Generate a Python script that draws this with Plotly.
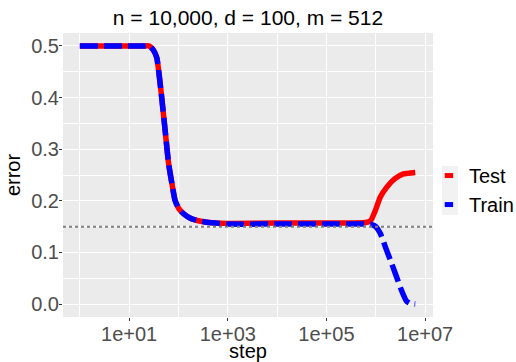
import plotly.graph_objects as go

# ---- data ----
test_step = [1, 10, 20, 25.1, 26.9, 30.9, 36.3, 45.7, 53.7, 63.1, 74.1, 85.1, 100, 117,
             148, 186, 347, 550, 1000, 10000, 100000, 631000, 794000, 977000, 1230000,
             1660000, 2450000, 3630000, 6310000]
test_err = [0.5, 0.5, 0.5, 0.5, 0.498, 0.492, 0.477, 0.40, 0.336, 0.272, 0.232, 0.201,
            0.186, 0.178, 0.170, 0.165, 0.159, 0.157, 0.156, 0.157, 0.157, 0.158, 0.162,
            0.181, 0.207, 0.226, 0.243, 0.252, 0.255]

train_step = [1, 10, 20, 25.1, 26.9, 30.9, 36.3, 45.7, 53.7, 63.1, 74.1, 85.1, 100, 117,
              148, 186, 347, 550, 1000, 10000, 100000, 631000, 832000, 1000000, 1230000,
              1660000, 2090000, 2630000, 3310000, 4170000, 5010000, 6310000]
train_err = [0.5, 0.5, 0.5, 0.5, 0.498, 0.492, 0.477, 0.40, 0.336, 0.272, 0.232, 0.201,
             0.186, 0.178, 0.170, 0.165, 0.159, 0.157, 0.155, 0.155, 0.155, 0.155, 0.154,
             0.150, 0.137, 0.104, 0.079, 0.053, 0.027, 0.006, 0.001, 0.0]

x_tickvals = [10, 1000, 100000, 10000000]
x_ticktext = ["1e+01", "1e+03", "1e+05", "1e+07"]
x_minor = [1, 100, 10000, 1000000]
y_tickvals = [0.0, 0.1, 0.2, 0.3, 0.4, 0.5]
y_ticktext = ["0.0", "0.1", "0.2", "0.3", "0.4", "0.5"]
y_minor = [0.05, 0.15, 0.25, 0.35, 0.45]
ref_line = 0.15
title = "n = 10,000, d = 100, m = 512"

FONT = "Liberation Sans, Arial, sans-serif"

fig = go.Figure()
fig.add_trace(go.Scatter(x=test_step, y=test_err, mode="lines", name="Test",
                         line=dict(color="#FF0000", width=5.5, shape="spline", smoothing=0.5),
                         showlegend=False))
fig.add_trace(go.Scatter(x=train_step, y=train_err, mode="lines", name="Train",
                         line=dict(color="#0000FF", width=5.5, dash="18px,6px",
                                   shape="spline", smoothing=0.5),
                         showlegend=False))
# legend keys
fig.add_trace(go.Scatter(x=[None], y=[None], mode="markers", name="Test",
                         marker=dict(symbol="line-ew", size=6,
                                     line=dict(color="#FF0000", width=5))))
fig.add_trace(go.Scatter(x=[None], y=[None], mode="markers", name="Train",
                         marker=dict(symbol="line-ew", size=6,
                                     line=dict(color="#0000FF", width=5))))

fig.add_shape(type="line", xref="paper", x0=0, x1=1, yref="y", y0=ref_line, y1=ref_line,
              line=dict(color="#7F7F7F", width=2, dash="3px,3px"), layer="above")
# legend key background
fig.add_shape(type="rect", xref="paper", yref="paper",
              x0=(442 - 63) / 370, x1=(458 - 63) / 370,
              y0=(317 - 215) / 284, y1=(317 - 166) / 284,
              line=dict(width=0), fillcolor="#F2F2F2", layer="below")

axis_common = dict(showline=False, zeroline=False, ticks="outside", ticklen=3,
                   tickcolor="#333333", tickwidth=1, gridcolor="white", gridwidth=1.1,
                   tickfont=dict(family=FONT, size=20, color="#4D4D4D"),
                   title_font=dict(family=FONT, size=20, color="black"))

fig.update_xaxes(type="log", range=[-0.341, 7.16], tickmode="array",
                 tickvals=x_tickvals, ticktext=x_ticktext,
                 minor=dict(tickvals=x_minor, showgrid=True, gridcolor="white",
                            gridwidth=0.7, ticks=""),
                 ticklabelstandoff=-4,
                 title_text="step", title_standoff=1, **axis_common)
fig.update_yaxes(range=[-0.025, 0.525], tickmode="array",
                 tickvals=y_tickvals, ticktext=y_ticktext,
                 minor=dict(tickvals=y_minor, showgrid=True, gridcolor="white",
                            gridwidth=0.7, ticks=""),
                 ticklabelstandoff=-4,
                 title_text="error", title_standoff=5, **axis_common)

fig.update_layout(
    width=516, height=362,
    margin=dict(l=63, r=83, t=33, b=45, autoexpand=False),
    paper_bgcolor="white", plot_bgcolor="#EBEBEB",
    font=dict(family=FONT, size=20, color="black"),
    title=dict(text=title, x=0.5, xref="paper", xanchor="center",
               y=1 - 18 / 362, yref="container", yanchor="middle",
               font=dict(family=FONT, size=21, color="black")),
    legend=dict(x=0.989, xanchor="left", y=0.447, yanchor="middle",
                bgcolor="rgba(0,0,0,0)", itemwidth=30,
                font=dict(family=FONT, size=20, color="black")),
)

fig.write_html("out.html", config={"displayModeBar": False},
               post_script="document.body.style.margin='0';")
